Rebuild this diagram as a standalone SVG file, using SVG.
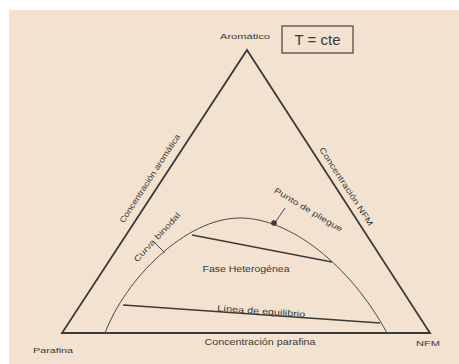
<svg xmlns="http://www.w3.org/2000/svg" width="459" height="364" viewBox="0 0 459 364">
  <style>
    .lbl { font-family: "Liberation Sans", Arial, sans-serif; fill: #3a3a3a; }
    .axis { fill: none; stroke: #3a3a3a; stroke-width: 1.8; stroke-linejoin: miter; }
    .curve { fill: none; stroke: #4a4a4a; stroke-width: 1; }
    .tie { fill: none; stroke: #3a3a3a; stroke-width: 1.3; }
  </style>
  <rect x="0" y="0" width="459" height="364" fill="#ffffff"/>
  <rect x="9" y="10" width="450" height="354" fill="#f2e2cf"/>

  <!-- ternary frame -->
  <g id="triangle">
    <polygon class="axis" points="247,50 430,333 62,333"/>
  </g>

  <!-- two-phase region -->
  <g id="binodal">
    <path class="curve" d="M105,333 C125,280 185,218 240,218 C290,218 350,265 387,333"/>
    <line class="tie" x1="192" y1="235" x2="332" y2="262"/>
    <line class="tie" x1="123" y1="305" x2="380" y2="323"/>
    <!-- leader lines -->
    <line class="curve" x1="155" y1="243" x2="165" y2="253"/>
    <line class="curve" x1="285" y1="208" x2="276" y2="221"/>
    <circle cx="274" cy="223" r="2.8" fill="#3a3a3a"/>
  </g>

  <g id="labels">
    <text class="lbl" x="245" y="39" font-size="7.5" text-anchor="middle" textLength="50" lengthAdjust="spacingAndGlyphs">Aromático</text>
    <g id="temp-box">
      <rect x="282" y="26" width="71" height="27" fill="none" stroke="#444" stroke-width="1.2"/>
      <text class="lbl" x="317.5" y="45" font-size="15" text-anchor="middle">T = cte</text>
    </g>
    <text class="lbl" x="53" y="353" font-size="8" text-anchor="middle" textLength="40" lengthAdjust="spacingAndGlyphs">Parafina</text>
    <text class="lbl" x="428" y="346" font-size="8" text-anchor="middle" textLength="24" lengthAdjust="spacingAndGlyphs">NFM</text>
    <text class="lbl" x="260" y="345" font-size="8.5" text-anchor="middle" textLength="111" lengthAdjust="spacingAndGlyphs">Concentración parafina</text>
    <text class="lbl" transform="translate(152,180) rotate(-57)" font-size="8" text-anchor="middle" textLength="104" lengthAdjust="spacingAndGlyphs">Concentración aromática</text>
    <text class="lbl" transform="translate(344,188) rotate(57)" font-size="8" text-anchor="middle" textLength="92" lengthAdjust="spacingAndGlyphs">Concentración NFM</text>
    <text class="lbl" transform="translate(159,239) rotate(-47)" font-size="8" text-anchor="middle" textLength="64" lengthAdjust="spacingAndGlyphs">Curva binodal</text>
    <text class="lbl" transform="translate(307,212) rotate(31)" font-size="8" text-anchor="middle" textLength="78" lengthAdjust="spacingAndGlyphs">Punto de pliegue</text>
    <text class="lbl" x="246" y="272" font-size="8.5" text-anchor="middle" textLength="87" lengthAdjust="spacingAndGlyphs">Fase Heterogénea</text>
    <text class="lbl" transform="translate(261,314) rotate(4)" font-size="8.5" text-anchor="middle" textLength="88" lengthAdjust="spacingAndGlyphs">Línea de equilibrio</text>
  </g>
</svg>
